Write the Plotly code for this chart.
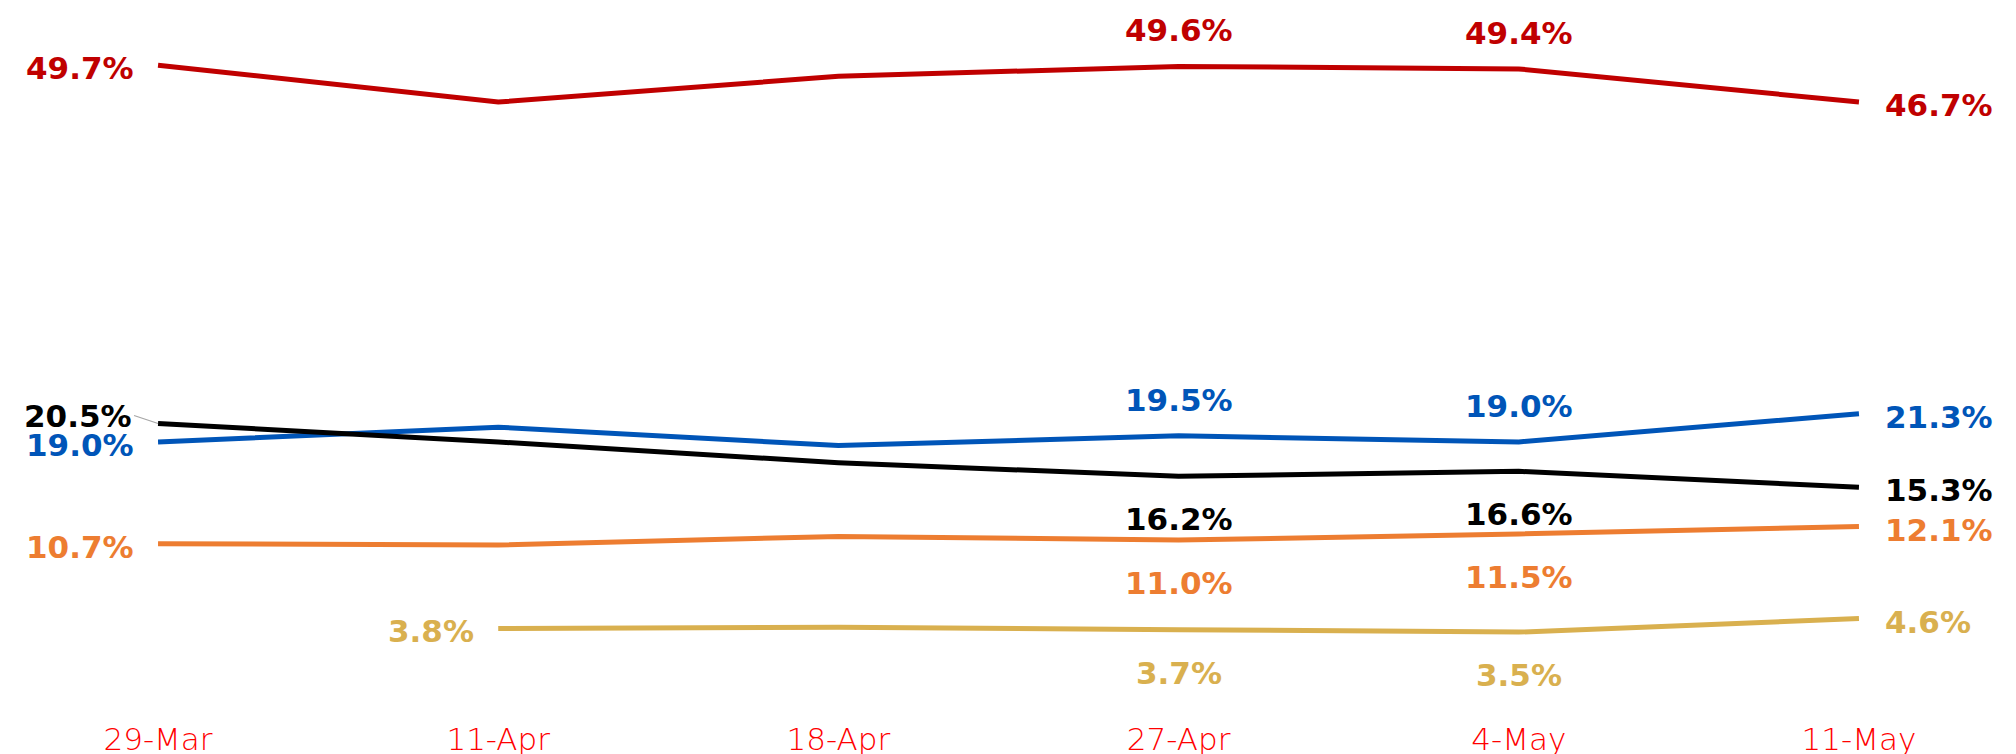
import plotly.graph_objects as go

dates = ["29-Mar", "11-Apr", "18-Apr", "27-Apr", "4-May", "11-May"]
red_vals = [49.7, 46.7, 48.8, 49.6, 49.4, 46.7]
blue_vals = [19.0, 20.2, 18.7, 19.5, 19.0, 21.3]
black_vals = [20.5, 19.0, 17.3, 16.2, 16.6, 15.3]
orange_vals = [10.7, 10.6, 11.3, 11.0, 11.5, 12.1]
yellow_vals = [None, 3.8, 3.9, 3.7, 3.5, 4.6]

RED = "#C00000"
BLUE = "#0055B8"
BLACK = "#000000"
ORANGE = "#ED7D31"
YELLOW = "#D9B04F"

series = [
    ("red", red_vals, RED),
    ("blue", blue_vals, BLUE),
    ("black", black_vals, BLACK),
    ("orange", orange_vals, ORANGE),
    ("yellow", yellow_vals, YELLOW),
]

# label placement per series: index -> mode
# 'L' left, 'R' right, 'A' above, 'B' below, 'LC' left with connector
label_modes = {
    "red": {0: "L", 3: "A", 4: "A", 5: "R"},
    "blue": {0: "L", 3: "A", 4: "A", 5: "R"},
    "black": {0: "LC", 3: "B", 4: "B", 5: "R"},
    "orange": {0: "L", 3: "B", 4: "B", 5: "R"},
    "yellow": {1: "L", 3: "B", 4: "B", 5: "R"},
}

fig = go.Figure()
for name, vals, col in series:
    fig.add_trace(go.Scatter(
        x=dates, y=vals, mode="lines", name=name,
        line=dict(color=col, width=5), hoverinfo="skip",
        connectgaps=False,
    ))

LABEL_FONT = dict(family="DejaVu Sans", size=31, weight="bold")

annotations = []
for name, vals, col in series:
    for idx, mode in label_modes[name].items():
        v = vals[idx]
        txt = f"{v:.1f}%"
        font = dict(LABEL_FONT, color=col)
        if mode == "L":
            annotations.append(dict(x=dates[idx], y=v, text=txt, showarrow=False,
                                    xanchor="right", yanchor="middle", xshift=-22, yshift=-3, font=font))
        elif mode == "LC":
            annotations.append(dict(x=dates[idx], y=v, text=txt, showarrow=True,
                                    ax=-24, ay=-8, xanchor="right", yanchor="middle",
                                    arrowhead=0, arrowwidth=1.2, arrowcolor="#A6A6A6",
                                    standoff=0, startstandoff=0, font=font))
        elif mode == "R":
            annotations.append(dict(x=dates[idx], y=v, text=txt, showarrow=False,
                                    xanchor="left", yanchor="middle", xshift=24, yshift=-3, font=font))
        elif mode == "A":
            annotations.append(dict(x=dates[idx], y=v, text=txt, showarrow=False,
                                    xanchor="center", yanchor="middle", yshift=36, font=font))
        elif mode == "B":
            annotations.append(dict(x=dates[idx], y=v, text=txt, showarrow=False,
                                    xanchor="center", yanchor="middle", yshift=-43, font=font))

fig.update_layout(
    width=2016, height=754,
    margin=dict(l=90, r=89, t=37, b=36, autoexpand=False),
    paper_bgcolor="white", plot_bgcolor="white",
    showlegend=False,
    annotations=annotations,
    xaxis=dict(
        type="category", range=[-0.2, 5.2], automargin=False,
        showgrid=False, zeroline=False, showline=False, ticks="",
        tickfont=dict(family="DejaVu Sans", size=31, color="#FF0000", weight=200),
    ),
    yaxis=dict(
        range=[-3.5, 52], showgrid=False, zeroline=False, showline=False,
        showticklabels=False, ticks="", automargin=False,
    ),
)

fig.write_html("out.html", config={"displayModeBar": False},
               post_script="document.body.style.margin='0';document.body.style.overflow='hidden';")
